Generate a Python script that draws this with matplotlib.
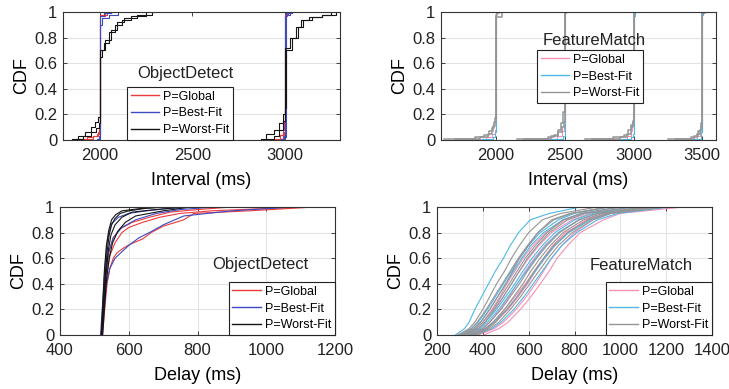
import matplotlib
matplotlib.use("Agg")
import matplotlib.pyplot as plt
from matplotlib.lines import Line2D

plt.rcParams['font.family'] = ['Liberation Sans', 'DejaVu Sans']

# ---------------- colours ----------------
OD_COLORS = {"P=Global": "#ee3a3a", "P=Best-Fit": "#3a4bc4", "P=Worst-Fit": "#151515"}
FM_COLORS = {"P=Global": "#f590b6", "P=Best-Fit": "#4fb8e6", "P=Worst-Fit": "#959595"}
LABELS = ["P=Global", "P=Best-Fit", "P=Worst-Fit"]

# ---------------- ObjectDetect interval CDFs (x: value where CDF steps to y) ----------------
od_int_global = [
    ([1880, 1930, 1960, 1985, 1995, 2000, 2030, 2060], [0.01, 0.02, 0.03, 0.05, 0.07, 0.97, 0.99, 1.0]),
    ([1920, 1960, 1990, 1997, 2000, 2040], [0.01, 0.03, 0.06, 0.09, 0.98, 1.0]),
    ([2950, 2975, 2990, 2997, 3000, 3015, 3030], [0.01, 0.04, 0.08, 0.15, 0.97, 0.99, 1.0]),
    ([2970, 2990, 2998, 3000, 3020], [0.01, 0.03, 0.06, 0.98, 1.0]),
]
od_int_best = [
    ([1985, 1995, 2000, 2010, 2050, 2100], [0.01, 0.03, 0.90, 0.95, 0.98, 1.0]),
    ([1990, 2000, 2020, 2060], [0.01, 0.97, 0.99, 1.0]),
    ([2980, 2995, 3000, 3010, 3040], [0.01, 0.03, 0.97, 0.99, 1.0]),
    ([2990, 3005, 3030], [0.02, 0.98, 1.0]),
]
od_int_worst = [
    ([1850, 1880, 1920, 1950, 1975, 1990, 2000, 2010, 2030, 2060, 2090, 2130, 2200, 2280],
     [0.01, 0.03, 0.06, 0.10, 0.14, 0.18, 0.65, 0.70, 0.78, 0.86, 0.92, 0.95, 0.98, 1.0]),
    ([1870, 1910, 1950, 1980, 1995, 2000, 2020, 2050, 2080, 2120, 2170, 2250],
     [0.01, 0.03, 0.06, 0.09, 0.13, 0.70, 0.76, 0.84, 0.90, 0.94, 0.97, 1.0]),
    ([2870, 2900, 2940, 2970, 2990, 3000, 3010, 3040, 3070, 3100, 3150, 3200, 3280],
     [0.01, 0.05, 0.08, 0.13, 0.20, 0.25, 0.70, 0.80, 0.88, 0.94, 0.96, 0.98, 1.0]),
    ([2900, 2940, 2970, 2990, 3000, 3030, 3060, 3090, 3130, 3200, 3250],
     [0.01, 0.03, 0.08, 0.15, 0.72, 0.80, 0.88, 0.94, 0.96, 0.98, 1.0]),
]

# ---------------- FeatureMatch interval CDFs ----------------
fm_int_global = [
    ([1800, 1930, 1970, 1990, 2000, 2020], [0.005, 0.02, 0.05, 0.08, 0.99, 1.0]),
    ([2300, 2440, 2480, 2495, 2500, 2510], [0.005, 0.03, 0.07, 0.12, 0.99, 1.0]),
    ([2800, 2950, 2980, 2990, 2997, 3000], [0.005, 0.03, 0.07, 0.12, 0.22, 1.0]),
    ([3350, 3460, 3480, 3495, 3500, 3510], [0.005, 0.03, 0.06, 0.10, 0.99, 1.0]),
]
fm_int_best = [
    ([1900, 1980, 1995, 2000, 2010], [0.005, 0.02, 0.06, 0.99, 1.0]),
    ([2400, 2490, 2500, 2505], [0.01, 0.03, 0.98, 1.0]),
    ([2900, 2980, 2995, 3000, 3010], [0.005, 0.02, 0.05, 0.97, 1.0]),
    ([3420, 3490, 3500, 3505], [0.01, 0.06, 0.98, 1.0]),
]
fm_int_worst = [
    ([1620, 1850, 1910, 1950, 1975, 1990, 2000, 2040], [0.005, 0.02, 0.04, 0.07, 0.11, 0.17, 0.96, 1.0]),
    ([1700, 1880, 1940, 1970, 1985, 2000, 2010], [0.005, 0.02, 0.05, 0.09, 0.14, 0.98, 1.0]),
    ([2150, 2380, 2420, 2450, 2475, 2490, 2500, 2510], [0.005, 0.02, 0.04, 0.08, 0.13, 0.22, 0.99, 1.0]),
    ([2200, 2400, 2450, 2480, 2495, 2500], [0.005, 0.03, 0.06, 0.10, 0.14, 1.0]),
    ([2650, 2850, 2930, 2960, 2985, 2995, 3000], [0.005, 0.02, 0.04, 0.08, 0.12, 0.15, 1.0]),
    ([2700, 2900, 2950, 2980, 2995, 3000], [0.005, 0.02, 0.05, 0.10, 0.14, 1.0]),
    ([3250, 3420, 3460, 3480, 3490, 3497, 3500, 3520], [0.005, 0.02, 0.05, 0.08, 0.13, 0.17, 0.99, 1.0]),
    ([3300, 3440, 3470, 3490, 3500, 3510], [0.005, 0.03, 0.07, 0.10, 0.99, 1.0]),
]

# ---------------- ObjectDetect delay CDFs (x, CDF) ----------------
od_delay_global = [
    ([524, 530, 537, 545, 555, 565, 585, 605, 640, 665, 700, 760, 790, 950, 1140],
     [0.0, 0.20, 0.40, 0.52, 0.60, 0.64, 0.68, 0.71, 0.75, 0.80, 0.85, 0.90, 0.95, 0.97, 1.0]),
    ([522, 528, 535, 545, 560, 580, 600, 640, 690, 750, 840, 1100],
     [0.0, 0.25, 0.45, 0.62, 0.72, 0.80, 0.84, 0.88, 0.92, 0.95, 0.97, 1.0]),
    ([520, 527, 534, 542, 555, 575, 610, 660, 720, 800, 900],
     [0.0, 0.25, 0.48, 0.65, 0.76, 0.83, 0.88, 0.92, 0.96, 0.98, 1.0]),
]
od_delay_best = [
    ([518, 524, 530, 536, 542, 550, 570, 600, 650, 720, 800],
     [0.0, 0.25, 0.50, 0.70, 0.80, 0.87, 0.92, 0.95, 0.97, 0.99, 1.0]),
    ([522, 528, 535, 545, 560, 580, 600, 630, 660, 700, 760, 900, 1080],
     [0.0, 0.22, 0.40, 0.52, 0.60, 0.65, 0.70, 0.76, 0.80, 0.86, 0.93, 0.97, 1.0]),
    ([520, 526, 533, 541, 555, 580, 620, 680, 750, 850],
     [0.0, 0.25, 0.48, 0.64, 0.76, 0.84, 0.90, 0.95, 0.98, 1.0]),
]
od_delay_worst = [
    ([520, 525, 531, 537, 543, 550, 560, 575, 600, 650, 700],
     [0.0, 0.20, 0.45, 0.65, 0.78, 0.86, 0.91, 0.95, 0.97, 0.99, 1.0]),
    ([522, 527, 533, 540, 548, 560, 580, 610, 680, 760],
     [0.0, 0.20, 0.45, 0.65, 0.78, 0.86, 0.92, 0.96, 0.98, 1.0]),
    ([524, 529, 535, 543, 553, 568, 590, 620, 700, 780],
     [0.0, 0.20, 0.42, 0.60, 0.72, 0.81, 0.88, 0.93, 0.97, 1.0]),
    ([520, 524, 529, 535, 542, 550, 562, 580, 640, 720],
     [0.0, 0.22, 0.50, 0.70, 0.82, 0.90, 0.94, 0.97, 0.99, 1.0]),
]

# ---------------- FeatureMatch delay CDFs (x at each CDF level) ----------------
fm_levels = [0, 0.05, 0.1, 0.2, 0.3, 0.4, 0.5, 0.6, 0.7, 0.8, 0.9, 0.95, 1.0]
fm_delay_global = [
    [404, 470, 510, 564, 610, 651, 690, 724, 770, 825, 927, 1000, 1276],
    [380, 450, 490, 545, 590, 630, 665, 700, 745, 800, 880, 960, 1200],
    [360, 420, 455, 510, 555, 595, 630, 670, 715, 770, 850, 920, 1150],
    [340, 400, 430, 475, 515, 550, 585, 625, 670, 730, 820, 900, 1100],
    [330, 385, 410, 455, 490, 525, 560, 600, 645, 700, 790, 870, 1050],
    [350, 410, 445, 495, 540, 585, 625, 665, 705, 760, 860, 940, 1180],
    [320, 370, 400, 440, 475, 505, 540, 575, 620, 675, 760, 840, 1000],
]
fm_delay_best = [
    [280, 320, 340, 365, 395, 425, 455, 490, 520, 556, 607, 690, 825],
    [300, 350, 380, 420, 455, 490, 525, 560, 600, 650, 730, 800, 950],
    [320, 380, 410, 460, 500, 540, 575, 615, 660, 715, 800, 880, 1050],
    [350, 410, 450, 505, 550, 590, 630, 670, 715, 775, 870, 950, 1150],
    [370, 440, 480, 535, 580, 620, 660, 700, 745, 810, 900, 990, 1220],
    [330, 390, 420, 470, 510, 550, 590, 630, 675, 730, 820, 900, 1100],
    [310, 360, 390, 430, 465, 500, 535, 570, 610, 665, 750, 830, 1000],
]
fm_delay_worst = [
    [290, 340, 365, 400, 430, 460, 495, 525, 560, 600, 660, 740, 900],
    [310, 360, 390, 430, 465, 500, 530, 560, 600, 640, 700, 780, 950],
    [330, 380, 410, 450, 490, 525, 560, 595, 640, 690, 770, 850, 1050],
    [340, 400, 430, 480, 520, 560, 595, 635, 680, 735, 820, 900, 1100],
    [360, 420, 455, 505, 550, 590, 625, 665, 710, 770, 860, 940, 1150],
    [320, 370, 400, 445, 480, 515, 550, 585, 630, 680, 750, 830, 1000],
    [300, 350, 375, 415, 450, 485, 520, 555, 595, 640, 710, 790, 950],
    [350, 410, 445, 495, 535, 575, 610, 650, 695, 750, 840, 920, 1120],
    [370, 430, 470, 520, 565, 605, 645, 685, 730, 790, 880, 960, 1200],
]

# ---------------- figure ----------------
W, H = 729, 389
fig = plt.figure(figsize=(W / 100, H / 100), dpi=100)

def px_axes(l, r, t, b):
    return fig.add_axes([l / W, 1 - b / H, (r - l) / W, (b - t) / H])

ax_tl = px_axes(63, 340, 12, 140)
ax_tr = px_axes(441, 716, 12, 140)
ax_bl = px_axes(60, 335, 207, 335)
ax_br = px_axes(437, 712, 207, 335)

def style(ax, xlim, xticks, xlabel, xgrid):
    ax.set_xlim(*xlim)
    ax.set_ylim(0, 1)
    ax.set_xticks(xticks)
    ax.set_yticks([0, 0.2, 0.4, 0.6, 0.8, 1])
    ax.set_yticklabels(["0", "0.2", "0.4", "0.6", "0.8", "1"])
    ax.tick_params(direction='in', length=3, width=0.6, top=True, right=True,
                   labelsize=12, colors='#222222')
    ax.tick_params(axis='x', pad=6)
    ax.tick_params(axis='y', pad=4)
    for s in ax.spines.values():
        s.set_color('#333333')
        s.set_linewidth(0.8)
    ax.grid(True, axis='y', color='#e3e3e3', linewidth=0.8)
    if xgrid:
        ax.grid(True, axis='x', color='#e3e3e3', linewidth=0.8)
    ax.set_axisbelow(True)
    ax.set_xlabel(xlabel, fontsize=13, labelpad=6)
    ax.set_ylabel("CDF", fontsize=13, labelpad=3)

def add_steps(ax, curves, color, lw=0.8):
    for xs, ys in curves:
        ax.step(xs, ys, where='post', color=color, lw=lw)

def add_lines(ax, curves, color):
    for xs, ys in curves:
        ax.plot(xs, ys, color=color, lw=0.8)

def add_legend(ax, colors, title, tx, ty, **kw):
    handles = [Line2D([], [], color=colors[l], lw=1.0) for l in LABELS]
    leg = ax.legend(handles, LABELS, fontsize=9, frameon=True, fancybox=False,
                    edgecolor='#222222', framealpha=1, handlelength=2.3,
                    handletextpad=0.3, labelspacing=0.38, borderpad=0.3,
                    borderaxespad=0, **kw)
    leg.get_frame().set_linewidth(0.8)
    ax.text(tx, ty, title, transform=ax.transAxes, ha='center', va='center',
            fontsize=12, color='#222222')

# top-left
style(ax_tl, (1800, 3300), [2000, 2500, 3000], "Interval (ms)", False)
add_steps(ax_tl, od_int_global, OD_COLORS["P=Global"])
add_steps(ax_tl, od_int_best, OD_COLORS["P=Best-Fit"])
add_steps(ax_tl, od_int_worst, OD_COLORS["P=Worst-Fit"])
add_legend(ax_tl, OD_COLORS, "ObjectDetect", 0.44, 0.52, loc='lower left', bbox_to_anchor=(0.231, 0.0))

# top-right
style(ax_tr, (1600, 3600), [2000, 2500, 3000, 3500], "Interval (ms)", False)
add_steps(ax_tr, fm_int_global, FM_COLORS["P=Global"])
add_steps(ax_tr, fm_int_best, FM_COLORS["P=Best-Fit"])
add_steps(ax_tr, fm_int_worst, FM_COLORS["P=Worst-Fit"], lw=1.1)
add_legend(ax_tr, FM_COLORS, "FeatureMatch", 0.556, 0.78, loc='lower left', bbox_to_anchor=(0.349, 0.289))

# bottom-left
style(ax_bl, (400, 1200), [400, 600, 800, 1000, 1200], "Delay (ms)", True)
add_lines(ax_bl, od_delay_global, OD_COLORS["P=Global"])
add_lines(ax_bl, od_delay_best, OD_COLORS["P=Best-Fit"])
add_lines(ax_bl, od_delay_worst, OD_COLORS["P=Worst-Fit"])
add_legend(ax_bl, OD_COLORS, "ObjectDetect", 0.727, 0.55, loc='lower right', bbox_to_anchor=(1.0, 0.0))

# bottom-right
style(ax_br, (200, 1400), [200, 400, 600, 800, 1000, 1200, 1400], "Delay (ms)", True)
for name, curves in (("P=Global", fm_delay_global), ("P=Best-Fit", fm_delay_best),
                     ("P=Worst-Fit", fm_delay_worst)):
    for xs in curves:
        ax_br.plot(xs, fm_levels, color=FM_COLORS[name], lw=0.8)
add_legend(ax_br, FM_COLORS, "FeatureMatch", 0.742, 0.54, loc='lower right', bbox_to_anchor=(1.0, 0.0))

fig.savefig("out.png", dpi=100)
